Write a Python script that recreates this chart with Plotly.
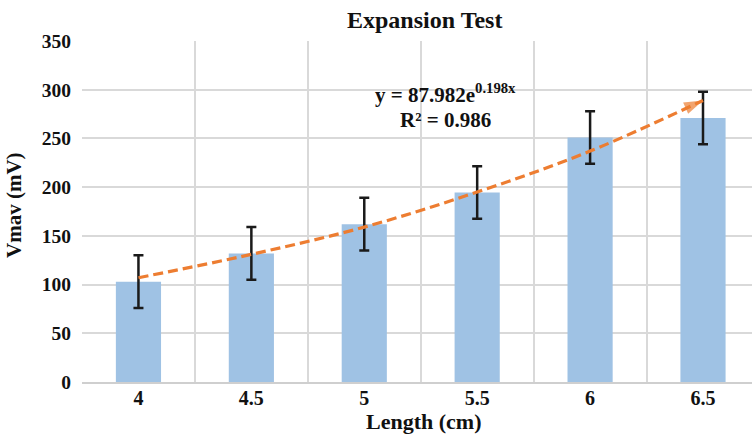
import plotly.graph_objects as go

categories = ["4", "4.5", "5", "5.5", "6", "6.5"]
vmav = [103, 132, 162, 194.5, 251, 271]
vmav_err = [27, 27, 27, 27, 27, 27]
trend = [107, 131, 159, 195, 237, 289]
y_ticks = [0, 50, 100, 150, 200, 250, 300, 350]

title_text = "Expansion Test"
x_title = "Length (cm)"
y_title = "Vmav (mV)"
eq_text = "y = 87.982e<sup>0.198x</sup>"
r2_text = "R² = 0.986"

FONT = "Liberation Serif, Times New Roman, serif"
INK = "#111111"
GRID = "#D9D9D9"
ORANGE = "#ED7D31"

L, T, B = 82, 41, 382
PW, PH = 752 - L, B - T


def px(xp):
    return (xp - L) / PW


def py(yp):
    return (B - yp) / PH


fig = go.Figure()
fig.add_trace(go.Bar(
    x=categories, y=vmav, width=0.4,
    marker=dict(color="#9FC2E4", line=dict(width=0)),
    error_y=dict(type="data", array=vmav_err, visible=True,
                 color="#1a1a1a", thickness=2.5, width=5),
    showlegend=False,
))
fig.add_trace(go.Scatter(
    x=categories, y=trend, mode="lines+markers",
    line=dict(color=ORANGE, width=3.2, dash="10px,5px", shape="spline"),
    marker=dict(symbol="arrow", size=[0, 0, 0, 0, 0, 20], color=ORANGE,
                angleref="previous", line=dict(width=0)),
    showlegend=False,
))

fig.update_layout(
    width=752, height=441,
    margin=dict(l=L, r=0, t=T, b=441 - B, autoexpand=False),
    paper_bgcolor="white", plot_bgcolor="white",
    font=dict(family=FONT, color=INK, size=20, weight=700),
    bargap=0.6,
)
fig.update_xaxes(
    type="category", range=[-0.5, 5.434], automargin=False,
    tickson="boundaries", showgrid=True, gridcolor=GRID, gridwidth=1.5,
    showline=True, linecolor="#CFCFCF", linewidth=2,
    ticks="", ticklabelstandoff=-3,
    tickfont=dict(family=FONT, size=20, color=INK, weight=700),
    fixedrange=True,
)
fig.update_yaxes(
    range=[0, 350], tickvals=y_ticks, automargin=False,
    showgrid=True, gridcolor=GRID, gridwidth=1.5,
    zeroline=False, showline=False, ticks="", ticklabelstandoff=10,
    tickfont=dict(family=FONT, size=19.5, color=INK, weight=700),
    fixedrange=True,
)

fig.add_annotation(xref="paper", yref="paper", x=px(424), y=py(20),
                   text=title_text, showarrow=False, xanchor="center", yanchor="middle",
                   font=dict(family=FONT, size=24, color=INK, weight=700))
fig.add_annotation(xref="paper", yref="paper", x=px(423), y=py(422),
                   text=x_title, showarrow=False, xanchor="center", yanchor="middle",
                   font=dict(family=FONT, size=22, color=INK, weight=700))
fig.add_annotation(xref="paper", yref="paper", x=px(14), y=py(205),
                   text=y_title, showarrow=False, xanchor="center", yanchor="middle",
                   textangle=-90,
                   font=dict(family=FONT, size=21, color=INK, weight=700))
fig.add_annotation(xref="paper", yref="paper", x=px(446), y=py(93),
                   text=eq_text, showarrow=False, xanchor="center", yanchor="middle",
                   font=dict(family=FONT, size=21, color=INK, weight=700))
fig.add_annotation(xref="paper", yref="paper", x=px(446), y=py(120),
                   text=r2_text, showarrow=False, xanchor="center", yanchor="middle",
                   font=dict(family=FONT, size=21, color=INK, weight=700))

fig.write_html("out.html", config={"displayModeBar": False},
               post_script="document.body.style.margin='0';document.body.style.overflow='hidden';")
